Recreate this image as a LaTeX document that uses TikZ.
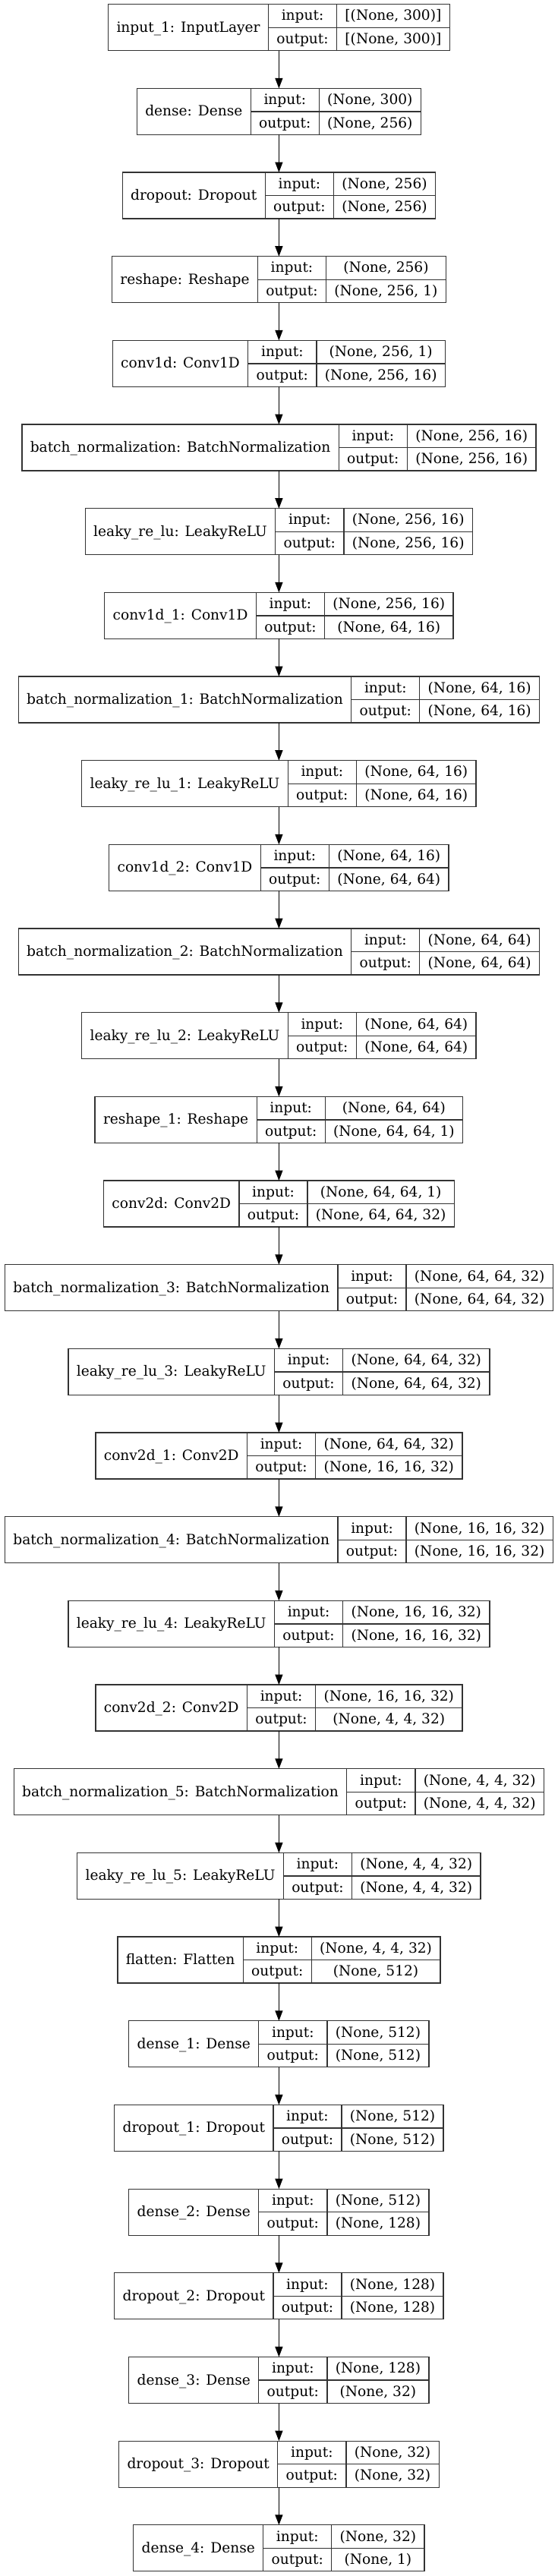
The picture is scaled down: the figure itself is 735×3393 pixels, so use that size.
\documentclass[tikz,border=0pt]{standalone}
\usepackage{fontspec}
\setmainfont{DejaVu Serif}
\usetikzlibrary{arrows.meta}
\newcommand\kfont{\fontsize{18.6pt}{22pt}\selectfont}
\newlength\Lw \newlength\Mw \newlength\Sw \newlength\Tw \newlength\tmpw
\tikzset{
  layerbox/.style={draw=none, inner sep=0pt, outer sep=0pt, minimum height=61pt},
  field/.style={draw=black!80, line width=1.3pt, inner sep=0pt, outer sep=0pt, minimum height=30.5pt,
    font=\kfont, text height=12pt, text depth=0pt, anchor=north west},
  flow/.style={draw=black, line width=1.3pt, -{Triangle[length=13.5pt,width=10pt]}}
}
\newcommand\kmeasure[3]{%
  \begin{pgfinterruptpicture}%
  \normalfont\kfont
  \settowidth\tmpw{#1}\addtolength\tmpw{21.8pt}\global\Lw=\tmpw
  \settowidth\tmpw{#2}\global\Sw=\tmpw
  \settowidth\tmpw{#3}\ifdim\tmpw>\Sw \global\Sw=\tmpw\fi
  \global\advance\Sw by 21.8pt
  \settowidth\tmpw{output:}\addtolength\tmpw{21.8pt}\global\Mw=\tmpw
  \end{pgfinterruptpicture}%
}
\newcommand\klayer[5]{%
  \kmeasure{#3}{#4}{#5}%
  \setlength\Tw{\Lw}\addtolength\Tw{\Mw}\addtolength\Tw{\Sw}%
  \pgfmathsetmacro\ktop{5.7+#1*110.67}%
  \node[layerbox, minimum width=\Tw, anchor=north] (#2) at (367.4,\ktop) {};
  \node[field, minimum width=\Lw, minimum height=61pt] (#2l) at (#2.north west) {#3};
  \node[field, minimum width=\Mw] (#2mi) at (#2l.north east) {input:};
  \node[field, minimum width=\Mw] (#2mo) at (#2mi.south west) {output:};
  \node[field, minimum width=\Sw] (#2si) at (#2mi.north east) {#4};
  \node[field, minimum width=\Sw] (#2so) at (#2si.south west) {#5};
}
\begin{document}
\begin{tikzpicture}[x=1pt,y=-1pt]
\fill[white] (0,0) rectangle (735,3393);
\useasboundingbox (0,0) rectangle (735,3393);
\klayer{0}{n0}{input\_1: InputLayer}{[(None, 300)]}{[(None, 300)]}
\klayer{1}{n1}{dense: Dense}{(None, 300)}{(None, 256)}
\klayer{2}{n2}{dropout: Dropout}{(None, 256)}{(None, 256)}
\klayer{3}{n3}{reshape: Reshape}{(None, 256)}{(None, 256, 1)}
\klayer{4}{n4}{conv1d: Conv1D}{(None, 256, 1)}{(None, 256, 16)}
\klayer{5}{n5}{batch\_normalization: BatchNormalization}{(None, 256, 16)}{(None, 256, 16)}
\klayer{6}{n6}{leaky\_re\_lu: LeakyReLU}{(None, 256, 16)}{(None, 256, 16)}
\klayer{7}{n7}{conv1d\_1: Conv1D}{(None, 256, 16)}{(None, 64, 16)}
\klayer{8}{n8}{batch\_normalization\_1: BatchNormalization}{(None, 64, 16)}{(None, 64, 16)}
\klayer{9}{n9}{leaky\_re\_lu\_1: LeakyReLU}{(None, 64, 16)}{(None, 64, 16)}
\klayer{10}{n10}{conv1d\_2: Conv1D}{(None, 64, 16)}{(None, 64, 64)}
\klayer{11}{n11}{batch\_normalization\_2: BatchNormalization}{(None, 64, 64)}{(None, 64, 64)}
\klayer{12}{n12}{leaky\_re\_lu\_2: LeakyReLU}{(None, 64, 64)}{(None, 64, 64)}
\klayer{13}{n13}{reshape\_1: Reshape}{(None, 64, 64)}{(None, 64, 64, 1)}
\klayer{14}{n14}{conv2d: Conv2D}{(None, 64, 64, 1)}{(None, 64, 64, 32)}
\klayer{15}{n15}{batch\_normalization\_3: BatchNormalization}{(None, 64, 64, 32)}{(None, 64, 64, 32)}
\klayer{16}{n16}{leaky\_re\_lu\_3: LeakyReLU}{(None, 64, 64, 32)}{(None, 64, 64, 32)}
\klayer{17}{n17}{conv2d\_1: Conv2D}{(None, 64, 64, 32)}{(None, 16, 16, 32)}
\klayer{18}{n18}{batch\_normalization\_4: BatchNormalization}{(None, 16, 16, 32)}{(None, 16, 16, 32)}
\klayer{19}{n19}{leaky\_re\_lu\_4: LeakyReLU}{(None, 16, 16, 32)}{(None, 16, 16, 32)}
\klayer{20}{n20}{conv2d\_2: Conv2D}{(None, 16, 16, 32)}{(None, 4, 4, 32)}
\klayer{21}{n21}{batch\_normalization\_5: BatchNormalization}{(None, 4, 4, 32)}{(None, 4, 4, 32)}
\klayer{22}{n22}{leaky\_re\_lu\_5: LeakyReLU}{(None, 4, 4, 32)}{(None, 4, 4, 32)}
\klayer{23}{n23}{flatten: Flatten}{(None, 4, 4, 32)}{(None, 512)}
\klayer{24}{n24}{dense\_1: Dense}{(None, 512)}{(None, 512)}
\klayer{25}{n25}{dropout\_1: Dropout}{(None, 512)}{(None, 512)}
\klayer{26}{n26}{dense\_2: Dense}{(None, 512)}{(None, 128)}
\klayer{27}{n27}{dropout\_2: Dropout}{(None, 128)}{(None, 128)}
\klayer{28}{n28}{dense\_3: Dense}{(None, 128)}{(None, 32)}
\klayer{29}{n29}{dropout\_3: Dropout}{(None, 32)}{(None, 32)}
\klayer{30}{n30}{dense\_4: Dense}{(None, 32)}{(None, 1)}
\foreach \i [evaluate=\i as \j using int(\i+1)] in {0,...,29}
  \draw[flow] (n\i.south) -- (n\j.north);
\end{tikzpicture}
\end{document}
